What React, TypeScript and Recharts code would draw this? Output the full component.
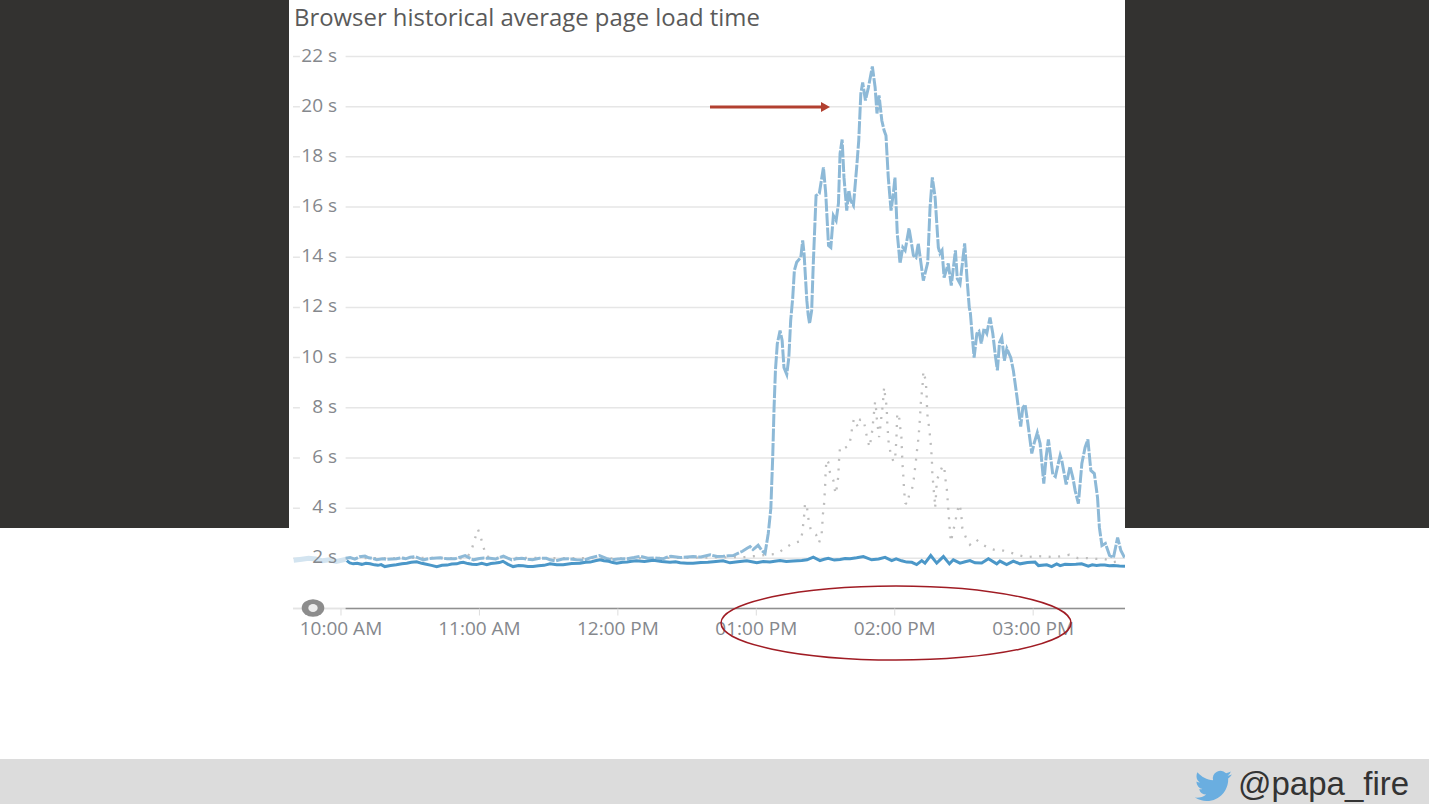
import { LineChart, Line, XAxis, YAxis, CartesianGrid, ReferenceLine, ReferenceArea } from 'recharts';

const yTicks = [2, 4, 6, 8, 10, 12, 14, 16, 18, 20, 22];
const xTicks = [0, 60, 120, 180, 240, 300];
const xLabels = ['10:00 AM', '11:00 AM', '12:00 PM', '01:00 PM', '02:00 PM', '03:00 PM'];

// minutes after 10:00 AM
const historicalMinutes = [
  2, 4, 6, 8, 10.4, 12, 14, 15.5, 18, 20, 24, 26, 28, 30, 32, 34, 35.7, 38, 40, 43, 46, 49.4, 52, 53.8, 56, 57.4, 60, 62,
  64.6, 67, 70.4, 72, 74, 76, 78.4, 81, 83, 86, 89, 90.6, 93, 96, 99, 102, 105, 108, 112, 115, 117, 120, 124, 127, 129.6,
  133, 136, 139.6, 141, 143, 147, 150, 152.6, 156, 160, 163, 165.6, 168, 170, 172, 174, 176, 177.3, 178.6, 180.8, 182.5,
  183.8, 185.2, 186.3, 187.1, 187.7, 188.3, 189.1, 190.3, 191.2, 192, 193.2, 194.1, 194.9, 195.8, 196.5, 197.5, 199.3,
  200.1, 200.7, 201.9, 202.5, 203.1, 204, 204.7, 205.9, 207.3, 209.1, 210.1, 211.3, 212.3, 213.4, 214.6, 215.6, 216.3,
  217.2, 218, 219.2, 220.1, 220.9, 222.1, 223.5, 224.4, 225.3, 226.1, 227.3, 228.6, 230.3, 231.5, 232.3, 233.2, 234.4,
  235.4, 236.2, 237.2, 238.4, 239.4, 240.1, 241.1, 242.3, 243.5, 244.5, 246.2, 248.1, 249.2, 250.2, 252.4, 254.3, 255.3,
  256.3, 257.5, 258.9, 259.6, 260.5, 261.4, 263.2, 264.5, 266.3, 267.1, 268.3, 270.3, 271.4, 272.3, 272.8, 273.5, 274.4,
  275.6, 276.5, 277.5, 278.7, 279.9, 281.3, 282.5, 283.6, 284.5, 285.4, 286.4, 287.5, 288.6, 290.3, 291.4, 292.9, 294.6,
  295.5, 296.5, 297.7, 299.4, 300.4, 301.8, 303, 304.6, 305.6, 306.6, 308.5, 309.6, 311.7, 312.4, 314.3, 316, 317.2,
  318.2, 319.6, 321.1, 322.5, 323.7, 325, 326.5, 327.9, 328.7, 329.8, 331.3, 333.1, 334.8, 336.6, 338, 339.6,
];
const historicalSeconds = [
  2, 2.03, 1.97, 2.06, 2.09, 2.02, 1.99, 1.94, 1.98, 1.96, 1.98, 2.02, 1.98, 2.04, 2.07, 2, 1.94, 1.99, 2, 2.02, 1.98, 1.98, 2.06, 2.11, 2, 1.94, 1.99, 2.01,
  2, 1.97, 2.09, 2.02, 1.94, 1.98, 2, 1.96, 1.94, 2, 2, 1.94, 1.9, 1.97, 1.98, 1.94, 1.92, 2.02, 2.11, 2, 1.94, 1.97, 1.98, 2.03, 2.08,
  2, 2.02, 1.98, 2.04, 2.08, 2.03, 2.05, 2.07, 2.05, 2.14, 2.07, 2.08, 2.1, 2.11, 2.2, 2.28, 2.4, 2.47, 2.35, 2.52, 2.3,
  2.2, 3, 4, 6, 8, 9.5, 10.55, 11.08, 10.68, 9.6, 9.33, 10, 11.48, 12.4, 13.47, 13.8, 14,
  14.67, 14.15, 12.28, 11.7, 11.36, 11.88, 13.75, 16.46, 16.54, 17.58, 16.54, 14.47, 14.39, 15.66, 15.46, 16.14, 18.13,
  18.69, 17.18, 15.86, 16.66, 16.26, 16.06, 17.58, 18.65, 20.52, 20.96, 20.25, 20.77, 21.6, 20.77, 19.73, 20.45, 19.45,
  19.05, 18.85, 17.18, 15.86, 16.54, 17.18, 14.95, 13.75, 14.39, 14.27, 15.15, 14.07, 13.99, 14.55, 13.07, 13.79, 15.98,
  17.18, 16.38, 14.39, 14.15, 14.27, 13.19, 13.75, 12.87, 14.27, 13.15, 12.95, 14.55, 13.07, 12, 11.76, 10.96, 10,
  10.96, 11.04, 10.56, 11.16, 10.96, 11.6, 10.96, 10.08, 9.49, 10.6, 10.8, 9.88, 10.36, 10, 9.49, 8.49, 7.25,
  8, 8.13, 7.37, 6.18, 6.58, 7.01, 6.58, 4.98, 6.02, 6.74, 5.34, 5.26, 6.1, 5.9, 4.94, 5.66, 5.22,
  4.7, 4.18, 5.78, 6.42, 6.74, 5.5, 5.38, 4.42, 3.23, 2.51, 2.59, 2.11, 2.03, 2.83, 2.31, 2.03,
];

const todayMinutes = [
  2.5, 3.8, 5.3, 7, 9, 10.8, 12.6, 14.5, 16, 17.4, 19, 21.5, 24, 26.4, 28.5, 30.5, 32.8, 35, 37, 39.2, 41.5, 43.8, 46, 48, 50.2,
  51.6, 53, 55, 56.8, 58.8, 61, 63.2, 65, 67, 68.6, 70.2, 72.4, 74.6, 77, 79, 81, 83.2, 85.6, 88, 90.6, 93.5, 96.3, 100, 103.6,
  106, 108, 110.2, 112.3, 114, 116, 117.8, 119.5, 122, 124, 126, 128, 131.5, 135.4, 139, 142.6, 145, 147, 150, 152.6, 156, 159,
  162.5, 165.6, 168.6, 172, 175.9, 180.2, 183, 185.9, 188, 190.3, 193, 196, 199.7, 202, 204.7, 207.6, 209.4, 211.2, 213.8, 216.3,
  218.5, 220.6, 223.5, 226.4, 230, 233, 235.8, 238.7, 240.6, 243, 245.2, 247.4, 249.5, 251.7, 253.1, 255.6, 258.2,
  261.1, 263.7, 265.4, 268.3, 270.5, 272.6, 274.8, 277.7, 280.6, 284.2, 285.6, 288.5, 291.4, 294.3, 297.5, 300.8, 302.3, 305.9, 308,
  310.2, 311.7, 313.8, 316, 318.5, 321, 323.9, 325.6, 327.5, 329.2, 331, 333, 334.8, 337.4, 339.8,
];
const todaySeconds = [
  1.91, 1.82, 1.78, 1.8, 1.76, 1.8, 1.78, 1.74, 1.72, 1.75, 1.67, 1.71, 1.74, 1.78, 1.8, 1.84, 1.86, 1.8, 1.76, 1.72, 1.67, 1.72, 1.73, 1.77, 1.78,
  1.82, 1.84, 1.79, 1.76, 1.75, 1.8, 1.75, 1.79, 1.81, 1.83, 1.88, 1.76, 1.67, 1.71, 1.7, 1.67, 1.67, 1.7, 1.72, 1.78, 1.74, 1.74, 1.79, 1.8,
  1.84, 1.85, 1.9, 1.94, 1.9, 1.88, 1.83, 1.8, 1.84, 1.85, 1.88, 1.9, 1.87, 1.92, 1.87, 1.84, 1.86, 1.82, 1.8, 1.8, 1.83, 1.84,
  1.87, 1.9, 1.82, 1.86, 1.9, 1.82, 1.87, 1.85, 1.88, 1.91, 1.87, 1.89, 1.91, 1.94, 2.05, 1.91, 1.96, 2, 1.93, 1.95,
  1.99, 1.98, 2.02, 2.07, 1.94, 1.97, 2.04, 1.91, 1.98, 1.9, 1.85, 1.84, 1.75, 1.91, 1.81, 2.11, 1.81,
  2.07, 1.78, 1.94, 1.81, 1.86, 1.91, 1.82, 1.81, 1.98, 1.78, 1.89, 1.75, 1.89, 1.78, 1.83, 1.85, 1.71, 1.74, 1.67,
  1.78, 1.71, 1.76, 1.75, 1.76, 1.78, 1.69, 1.74, 1.71, 1.73, 1.73, 1.7, 1.71, 1.69, 1.68,
];

const lastWeekMinutes = [
  2, 40, 52, 54.9, 56.9, 58.1, 59.4, 60.7, 61.8, 62.9, 65, 120, 150, 175, 188.8, 192.1, 195.3, 199.1, 200, 200.4, 200.8, 201.1, 201.8, 202.3,
  202.8, 203.7, 205.9, 207.2, 208.3, 208.6, 208.8, 209.3, 209.8, 210.1, 210.5, 211.2, 211.9, 213.4, 214.1, 214.5, 215.1,
  215.6, 215.7, 216, 216.3, 218.4, 220.3, 221, 221.6, 222.3, 224.1, 225, 226.4, 227.3, 228, 229.1, 229.7, 230.3, 230.7,
  231.5, 231.9, 232.2, 233.2, 233.9, 234.3, 234.8, 235.4, 235.9, 236.5, 236.8, 237.4, 238.2, 239.4, 240.1, 240.7, 241.1,
  242, 242.4, 242.9, 243.2, 243.4, 243.7, 243.9, 244.2, 244.6, 245.5, 246.2, 247.3, 248.1, 248.6, 249.1, 249.5, 250,
  250.4, 250.7, 251, 251.2, 251.5, 252, 252.4, 253.4, 253.7, 253.9, 254, 254.3, 254.9, 255.3, 255.7, 256, 256.2, 256.3,
  256.7, 257, 257.3, 257.5, 257.8, 258, 258.3, 260.8, 261.5, 261.8, 262.5, 262.8, 263.1, 263.4, 263.7, 264, 264.4, 265.1,
  266.1, 266.9, 267.9, 268.6, 269, 269.3, 270.8, 272.6, 275.2, 278, 281.3, 284.5, 287.1, 290.4, 294.3, 297.5, 301.5,
  305.4, 309.2, 312.4, 315.7, 319.3, 323.2, 327.1, 331, 334.8, 338.7,
];
const lastWeekSeconds = [
  2, 2.02, 2, 2.05, 2.43, 2.8, 3.15, 2.8, 2.43, 2.1, 2.02, 2, 2.02, 2.05, 2.18, 2.38, 2.58, 2.68, 3.04, 3.44, 3.77, 4.17, 4.17, 3.77,
  3.44, 3.11, 2.94, 2.62, 2.94, 3.31, 3.71, 4.07, 4.81, 5.57, 5.93, 5.83, 5.43, 5.1, 4.7, 4.57, 4.97,
  5.3, 5.7, 6.1, 6.43, 6.4, 6.5, 6.86, 7.23, 7.56, 7.23, 7.53, 7.53, 7.16, 6.79, 6.43, 6.76, 7.12, 7.52,
  8.25, 7.96, 7.6, 6.83, 7.33, 7.73, 8.09, 8.82, 8.42, 8.05, 7.32, 6.56, 6.2, 5.86, 5.9, 6.7, 7.79,
  7.56, 7.2, 6.83, 6.1, 5.7, 5.3, 4.97, 4.57, 4.2, 4.15, 4.51, 4.68, 5.04, 5.43, 5.81, 6.19, 6.56,
  6.92, 7.29, 7.69, 8.05, 8.42, 8.8, 9.45, 9.09, 8.72, 8.33, 7.96, 7.56, 7.23, 6.86, 6.47, 6.07, 5.7, 5.34,
  4.96, 4.6, 4.35, 4.01, 4.37, 4.74, 5.13, 5.7, 5.63, 5.24, 4.86, 4.48, 4.11, 3.73, 3.35, 2.98, 2.66, 3.02,
  3.38, 3.78, 4.15, 3.93, 3.57, 3.2, 2.84, 2.54, 2.75, 2.55, 2.38, 2.31, 2.31, 2.22, 2.11, 2.05, 2.09,
  2.07, 2.05, 2.09, 2.14, 2.01, 2.01, 1.98, 1.97, 1.85, 1.91,
];

// the washed out bit left of the range handle
const fadedMinutes = [-20.5, -17, -14, -11, -8, -5, -2, 2];
const fadedSeconds = [1.92, 1.96, 2, 1.97, 1.9, 1.94, 1.88, 1.96];

const toPoints = (minutes: number[], seconds: number[]) => minutes.map((m, i) => ({ m, v: seconds[i] }));

const historical = toPoints(historicalMinutes, historicalSeconds);
const today = toPoints(todayMinutes, todaySeconds);
const lastWeek = toPoints(lastWeekMinutes, lastWeekSeconds);
const faded = toPoints(fadedMinutes, fadedSeconds);

const tickFont = '"Open Sans", sans-serif';

function SecondsTick({ x, y, payload }: any) {
  return (
    <text x={x + 52} y={y - 2} textAnchor="end" dominantBaseline="central" fontSize={19} fontFamily={tickFont} fill="#85888d">
      {payload.value} s
    </text>
  );
}

export default function App() {
  return (
    <div style={{ position: 'absolute', left: 0, top: 0, width: 1429, height: 804, background: '#fff', overflow: 'hidden' }}>
      <div style={{ position: 'absolute', left: 0, top: 0, width: 1429, height: 528, background: '#333230' }} />
      <div style={{ position: 'absolute', left: 289, top: 0, width: 836, height: 528, background: '#fff' }} />
      <div style={{ position: 'absolute', left: 0, top: 759, width: 1429, height: 45, background: '#dcdcdc' }} />
      <div style={{ position: 'absolute', left: 294, top: 0, fontFamily: tickFont, fontSize: 23.9, color: '#5a5a5a', whiteSpace: 'nowrap' }}>
        Browser historical average page load time
      </div>

      <div style={{ position: 'absolute', left: 0, top: 0 }}>
        <LineChart width={1429} height={804} margin={{ top: 56.5, right: 304, bottom: 0, left: 0 }}>
          <CartesianGrid vertical={false} stroke="#e6e6e6" strokeWidth={1.5} />
          <XAxis
            type="number"
            dataKey="m"
            domain={[-20.8, 339.8]}
            allowDataOverflow
            ticks={xTicks}
            tickFormatter={(m: number) => xLabels[xTicks.indexOf(m)]}
            interval={0}
            height={195.5}
            axisLine={false}
            tickLine={{ stroke: '#dddddd' }}
            tickSize={7}
            tickMargin={6}
            tick={{ fontSize: 19, fontFamily: tickFont, fill: '#85888d' }}
          />
          <YAxis
            type="number"
            dataKey="v"
            domain={[0, 22]}
            ticks={yTicks}
            width={293}
            axisLine={false}
            tickLine={false}
            tick={SecondsTick}
          />
          <ReferenceArea x1={-17.8} x2={2} y1={0.15} y2={22.1} ifOverflow="visible" fill="#fff" fillOpacity={1} stroke="none" />
          <ReferenceLine segment={[{ x: -20.8, y: 0 }, { x: 2, y: 0 }]} stroke="#e4e4e4" strokeWidth={1.5} />
          <ReferenceLine segment={[{ x: 2, y: 0 }, { x: 339.8, y: 0 }]} stroke="#8f8f8f" strokeWidth={1.5} />
          <Line data={faded} dataKey="v" stroke="#d3e4f0" strokeWidth={5} dot={false} isAnimationActive={false} />
          <Line data={lastWeek} dataKey="v" stroke="#bdbdbd" strokeWidth={2.3} strokeDasharray="2 7.5" dot={false} isAnimationActive={false} />
          <Line data={historical} dataKey="v" stroke="#8db9d7" strokeWidth={3} strokeDasharray="13 1.5" dot={false} isAnimationActive={false} />
          <Line data={today} dataKey="v" stroke="#4b97c8" strokeWidth={3} dot={false} isAnimationActive={false} />
        </LineChart>
      </div>

      {/* slide annotations, not part of the chart itself */}
      <svg width={1429} height={804} style={{ position: 'absolute', left: 0, top: 0, pointerEvents: 'none' }}>
        <ellipse cx={313} cy={608} rx={11.3} ry={8.7} fill="#8c8c8c" />
        <ellipse cx={313} cy={608} rx={4.7} ry={4} fill="#ececec" />
        <line x1={710} y1={107} x2={822} y2={107} stroke="#b24030" strokeWidth={3} />
        <polygon points="821,102 830,107 821,112" fill="#b24030" />
        <ellipse cx={896} cy={623} rx={175} ry={37} fill="none" stroke="#a01c24" strokeWidth={1.5} />
        <g transform="translate(1195 767.5) scale(1.54)">
          <path
            fill="#6aaee0"
            d="M23.953 4.57a10 10 0 01-2.825.775 4.958 4.958 0 002.163-2.723c-.951.555-2.005.959-3.127 1.184a4.92 4.92 0 00-8.384 4.482C7.69 8.095 4.067 6.13 1.64 3.162a4.822 4.822 0 00-.666 2.475c0 1.71.87 3.213 2.188 4.096a4.904 4.904 0 01-2.228-.616v.06a4.923 4.923 0 003.946 4.827 4.996 4.996 0 01-2.212.085 4.936 4.936 0 004.604 3.417 9.867 9.867 0 01-6.102 2.105c-.39 0-.779-.023-1.17-.067a13.995 13.995 0 007.557 2.209c9.053 0 13.998-7.496 13.998-13.985 0-.21 0-.42-.015-.63A9.935 9.935 0 0024 4.59z"
          />
        </g>
        <text x={1238} y={795} fontSize={33} fontFamily='"Liberation Sans", sans-serif' fill="#333">
          @papa_fire
        </text>
      </svg>
    </div>
  );
}
